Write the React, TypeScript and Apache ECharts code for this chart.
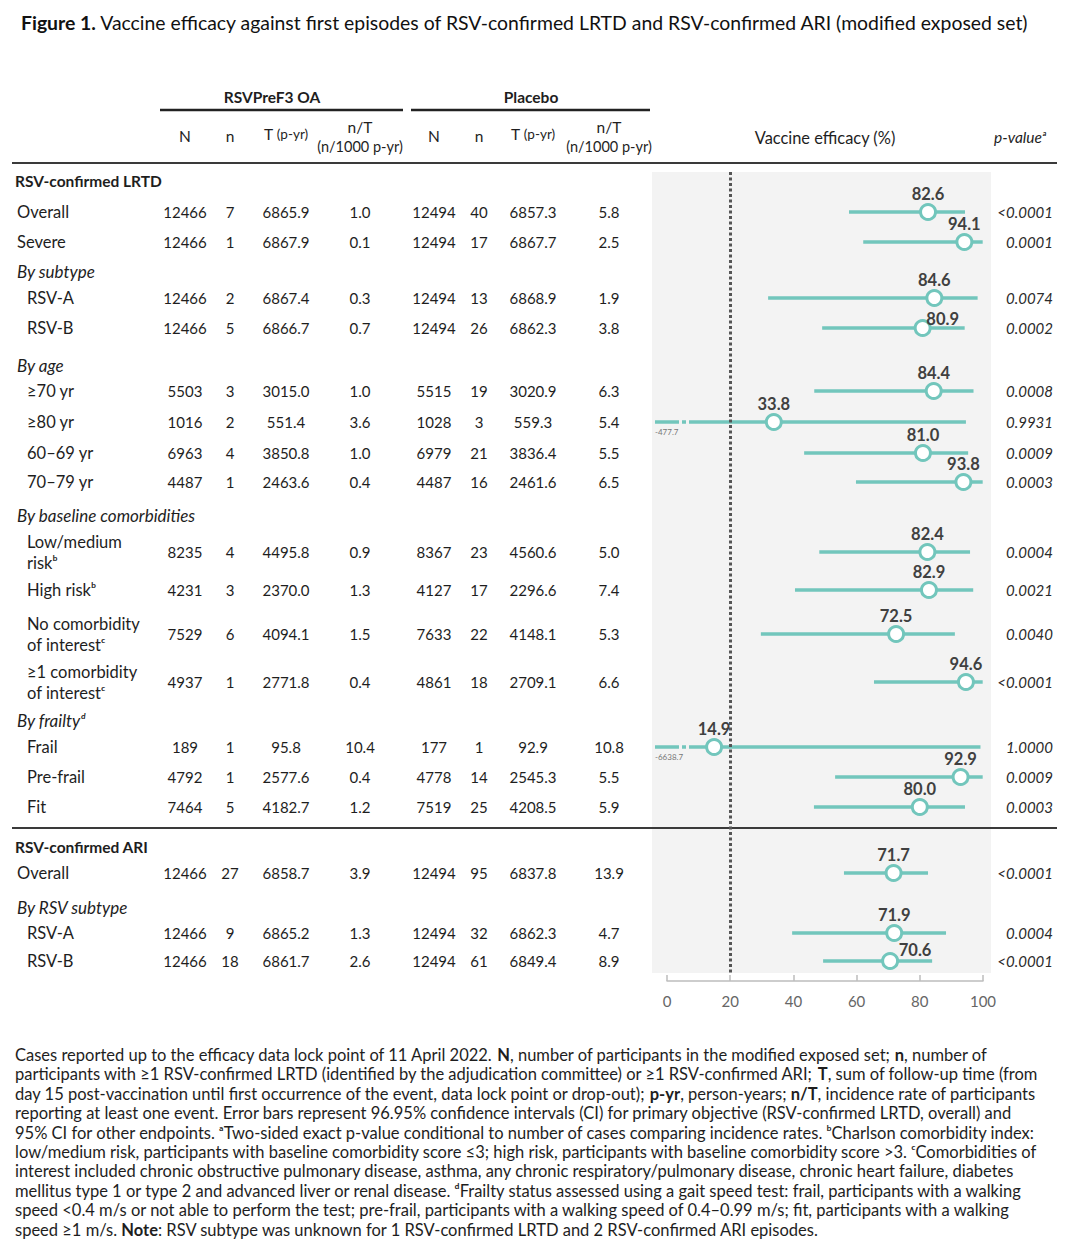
import React, { useEffect, useRef } from "react";
import * as echarts from "echarts";

// ---------------- DATA ----------------
const ROW_LABELS = [
  "RSV-confirmed LRTD", "Overall", "Severe", "By subtype", "RSV-A", "RSV-B",
  "By age", "≥70 yr", "≥80 yr", "60–69 yr", "70–79 yr",
  "By baseline comorbidities", "Low/medium\nriskᵇ", "High riskᵇ",
  "No comorbidity\nof interestᶜ", "≥1 comorbidity\nof interestᶜ",
  "By frailtyᵈ", "Frail", "Pre-frail", "Fit",
  "RSV-confirmed ARI", "Overall", "By RSV subtype", "RSV-A", "RSV-B",
];
// kind: g = group (bold), h = subgroup header (italic), o = outer item, i = indented item
const ROW_KIND = ["g", "o", "o", "h", "i", "i", "h", "i", "i", "i", "i", "h", "i", "i", "i", "i", "h", "i", "i", "i", "g", "o", "h", "i", "i"];

const VAC_N = [null, 12466, 12466, null, 12466, 12466, null, 5503, 1016, 6963, 4487, null, 8235, 4231, 7529, 4937, null, 189, 4792, 7464, null, 12466, null, 12466, 12466];
const VAC_CASES = [null, 7, 1, null, 2, 5, null, 3, 2, 4, 1, null, 4, 3, 6, 1, null, 1, 1, 5, null, 27, null, 9, 18];
const VAC_T = [null, "6865.9", "6867.9", null, "6867.4", "6866.7", null, "3015.0", "551.4", "3850.8", "2463.6", null, "4495.8", "2370.0", "4094.1", "2771.8", null, "95.8", "2577.6", "4182.7", null, "6858.7", null, "6865.2", "6861.7"];
const VAC_RATE = [null, "1.0", "0.1", null, "0.3", "0.7", null, "1.0", "3.6", "1.0", "0.4", null, "0.9", "1.3", "1.5", "0.4", null, "10.4", "0.4", "1.2", null, "3.9", null, "1.3", "2.6"];
const PLA_N = [null, 12494, 12494, null, 12494, 12494, null, 5515, 1028, 6979, 4487, null, 8367, 4127, 7633, 4861, null, 177, 4778, 7519, null, 12494, null, 12494, 12494];
const PLA_CASES = [null, 40, 17, null, 13, 26, null, 19, 3, 21, 16, null, 23, 17, 22, 18, null, 1, 14, 25, null, 95, null, 32, 61];
const PLA_T = [null, "6857.3", "6867.7", null, "6868.9", "6862.3", null, "3020.9", "559.3", "3836.4", "2461.6", null, "4560.6", "2296.6", "4148.1", "2709.1", null, "92.9", "2545.3", "4208.5", null, "6837.8", null, "6862.3", "6849.4"];
const PLA_RATE = [null, "5.8", "2.5", null, "1.9", "3.8", null, "6.3", "5.4", "5.5", "6.5", null, "5.0", "7.4", "5.3", "6.6", null, "10.8", "5.5", "5.9", null, "13.9", null, "4.7", "8.9"];
const VE = [null, 82.6, 94.1, null, 84.6, 80.9, null, 84.4, 33.8, 81.0, 93.8, null, 82.4, 82.9, 72.5, 94.6, null, 14.9, 92.9, 80.0, null, 71.7, null, 71.9, 70.6];
const CI_LO = [null, 57.6, 62.1, null, 32.0, 49.1, null, 46.6, -477.7, 43.4, 59.8, null, 48.2, 40.5, 29.7, 65.5, null, -6638.7, 53.2, 46.5, null, 56.0, null, 39.6, 49.4];
const CI_HI = [null, 94.3, 99.9, null, 98.3, 94.2, null, 97.0, 94.6, 95.3, 99.9, null, 95.9, 96.9, 91.1, 99.9, null, 99.2, 99.9, 94.3, null, 82.6, null, 88.3, 83.9];
const P_VALUES = [null, "<0.0001", "0.0001", null, "0.0074", "0.0002", null, "0.0008", "0.9931", "0.0009", "0.0003", null, "0.0004", "0.0021", "0.0040", "<0.0001", null, "1.0000", "0.0009", "0.0003", null, "<0.0001", null, "0.0004", "<0.0001"];

const AXIS_TICKS = [0, 20, 40, 60, 80, 100];
const REFERENCE_LINE = 20;

const TITLE_BOLD = "Figure 1.";
const TITLE_REST = " Vaccine efficacy against first episodes of RSV-confirmed LRTD and RSV-confirmed ARI (modified exposed set)";

const FOOTNOTE_LINES = [
  "Cases reported up to the efficacy data lock point of 11 April 2022. {b|N}, number of participants in the modified exposed set; {b|n}, number of",
  "participants with ≥1 RSV-confirmed LRTD (identified by the adjudication committee) or ≥1 RSV-confirmed ARI; {b|T}, sum of follow-up time (from",
  "day 15 post-vaccination until first occurrence of the event, data lock point or drop-out); {b|p-yr}, person-years; {b|n/T}, incidence rate of participants",
  "reporting at least one event. Error bars represent 96.95% confidence intervals (CI) for primary objective (RSV-confirmed LRTD, overall) and",
  "95% CI for other endpoints. ᵃTwo-sided exact p-value conditional to number of cases comparing incidence rates. ᵇCharlson comorbidity index:",
  "low/medium risk, participants with baseline comorbidity score ≤3; high risk, participants with baseline comorbidity score >3. ᶜComorbidities of",
  "interest included chronic obstructive pulmonary disease, asthma, any chronic respiratory/pulmonary disease, chronic heart failure, diabetes",
  "mellitus type 1 or type 2 and advanced liver or renal disease. ᵈFrailty status assessed using a gait speed test: frail, participants with a walking",
  "speed <0.4 m/s or not able to perform the test; pre-frail, participants with a walking speed of 0.4–0.99 m/s; fit, participants with a walking",
  "speed ≥1 m/s. {b|Note}: RSV subtype was unknown for 1 RSV-confirmed LRTD and 2 RSV-confirmed ARI episodes.",
];

// ---------------- LAYOUT ----------------
const ROW_Y = [181, 212, 242, 271, 298, 328, 365, 391, 422, 453, 482, 515, 552, 590, 634, 682, 720, 747, 777, 807, 847, 873, 907, 933, 961];
const LABEL_DX: Record<number, number> = { 5: 20, 24: 25 };
const LABEL_DY: Record<number, number> = { 5: -9, 24: -11 };
const COL_X = [185, 230, 286, 360, 434, 479, 533, 609];
const PLOT_TOP = 172;
const PLOT_BOTTOM = 973;
const PLOT_LEFT = 667;
const PLOT_RIGHT = 983;
const FONT = 'Lato, "Open Sans", "DejaVu Sans", sans-serif';
const TEAL = "#72c6bc";
const TEXT = "#1e1e1e";
const FOOT_SIZE = 16.5;

function txt(x: number, y: number, text: string, extra: any = {}) {
  return {
    type: "text",
    x,
    y,
    silent: true,
    style: {
      text,
      fontFamily: FONT,
      fontSize: 15,
      fill: TEXT,
      align: "center",
      verticalAlign: "middle",
      ...extra,
    },
  };
}

function hline(x1: number, x2: number, y: number, w = 2, c = "#3a3a3a") {
  return { type: "line", silent: true, shape: { x1, y1: y, x2, y2: y }, style: { stroke: c, lineWidth: w } };
}

function buildGraphics() {
  const g: any[] = [];
  // panel
  g.push({ type: "rect", silent: true, z: -10, shape: { x: 652, y: PLOT_TOP, width: 339, height: PLOT_BOTTOM - PLOT_TOP }, style: { fill: "#f3f3f3" } });
  // title
  g.push(txt(21, 22, `{b|${TITLE_BOLD}}{r|${TITLE_REST}}`, {
    align: "left",
    rich: {
      b: { fontFamily: FONT, fontSize: 19.4, fontWeight: "bold", fill: "#111" },
      r: { fontFamily: FONT, fontSize: 19.4, fill: "#111" },
    },
  }));
  // group headers
  g.push(txt(272, 97, "RSVPreF3 OA", { fontWeight: "bold", fontSize: 15.5 }));
  g.push(txt(531, 97, "Placebo", { fontWeight: "bold", fontSize: 15.5 }));
  g.push(hline(160, 403, 110, 2.5, "#222"));
  g.push(hline(411, 650, 110, 2.5, "#222"));
  // column headers
  const richT = { t: { fontFamily: FONT, fontSize: 15.5, fill: TEXT }, s: { fontFamily: FONT, fontSize: 13.5, fill: TEXT } };
  [0, 4].forEach((o) => {
    g.push(txt(COL_X[o], 136, "N", { fontSize: 15.5 }));
    g.push(txt(COL_X[o + 1], 136, "n", { fontSize: 15.5 }));
    g.push(txt(COL_X[o + 2], 134, "{t|T} {s|(p-yr)}", { rich: richT }));
    g.push(txt(COL_X[o + 3], 127, "n/T", { fontSize: 15.5 }));
    g.push(txt(COL_X[o + 3], 146, "(n/1000 p-yr)", { fontSize: 14.5 }));
  });
  g.push(txt(825, 137, "Vaccine efficacy (%)", { fontSize: 16.4 }));
  g.push(txt(1020, 137, "p-valueᵃ", { fontStyle: "italic", fontSize: 15.5 }));
  g.push(hline(12, 1057, 163, 2));
  g.push(hline(12, 1057, 828, 2));

  // rows
  ROW_LABELS.forEach((label, i) => {
    const kind = ROW_KIND[i];
    const y = ROW_Y[i];
    const x = kind === "i" ? 27 : kind === "g" ? 15 : 17;
    g.push(txt(x, y, label, {
      align: "left",
      fontWeight: kind === "g" ? "bold" : "normal",
      fontStyle: kind === "h" ? "italic" : "normal",
      fontSize: kind === "g" ? 15.5 : kind === "h" ? 17 : 16.5,
      lineHeight: 21,
    }));
    if (VAC_N[i] == null) return;
    const vals = [VAC_N[i], VAC_CASES[i], VAC_T[i], VAC_RATE[i], PLA_N[i], PLA_CASES[i], PLA_T[i], PLA_RATE[i]];
    vals.forEach((v, c) => g.push(txt(COL_X[c], y, String(v))));
    g.push(txt(1053, y, P_VALUES[i] as string, { align: "right", fontStyle: "italic", fill: "#2a2a2a" }));
  });

  // footnote
  FOOTNOTE_LINES.forEach((line, k) => {
    g.push(txt(15, 1055 + k * 19.4, line, {
      align: "left",
      fontSize: FOOT_SIZE,
      rich: {
        b: { fontFamily: FONT, fontSize: FOOT_SIZE, fontWeight: "bold", fill: TEXT },
      },
    }));
  });
  return g;
}

export default function App() {
  const ref = useRef<HTMLDivElement>(null);
  useEffect(() => {
    document.body.style.margin = "0";
    if (!ref.current) return;
    const chart = echarts.init(ref.current, null, { renderer: "svg" });
    const forestData: any[] = [];
    VE.forEach((v, i) => {
      if (v == null) return;
      forestData.push([v, ROW_Y[i], CI_LO[i], CI_HI[i], i]);
    });
    const option: any = {
      animation: false,
      backgroundColor: "#ffffff",
      textStyle: { fontFamily: FONT },
      grid: { left: PLOT_LEFT, top: PLOT_TOP, width: PLOT_RIGHT - PLOT_LEFT, height: PLOT_BOTTOM - PLOT_TOP, containLabel: false },
      xAxis: {
        type: "value",
        min: AXIS_TICKS[0],
        max: AXIS_TICKS[AXIS_TICKS.length - 1],
        interval: AXIS_TICKS[1] - AXIS_TICKS[0],
        offset: 8,
        axisLine: { show: true, lineStyle: { color: "#bdbdbd", width: 1.5 } },
        axisTick: { show: true, inside: true, length: 6, lineStyle: { color: "#bdbdbd", width: 1.5 } },
        axisLabel: { color: "#666", fontSize: 15, fontFamily: FONT, margin: 12 },
        splitLine: { show: false },
      },
      yAxis: { type: "value", inverse: true, min: PLOT_TOP, max: PLOT_BOTTOM, show: false },
      graphic: buildGraphics(),
      series: [
        {
          type: "custom",
          clip: false,
          z: 3,
          data: forestData,
          encode: { x: 0, y: 1 },
          renderItem: (params: any, api: any) => {
            const ve = api.value(0);
            const y = api.value(1);
            const lo = api.value(2);
            const hi = api.value(3);
            const idx = api.value(4);
            const pv = api.coord([ve, y]);
            const ph = api.coord([hi, y]);
            const p0 = api.coord([0, y]);
            const ls = { stroke: TEAL, lineWidth: 3.5 };
            const children: any[] = [];
            if (lo >= 0) {
              const pl = api.coord([lo, y]);
              children.push({ type: "line", shape: { x1: pl[0], y1: pv[1], x2: ph[0], y2: pv[1] }, style: ls });
            } else {
              children.push({ type: "line", shape: { x1: p0[0] - 12, y1: pv[1], x2: p0[0] + 12, y2: pv[1] }, style: ls });
              children.push({ type: "line", shape: { x1: p0[0] + 15, y1: pv[1], x2: p0[0] + 19, y2: pv[1] }, style: ls });
              children.push({ type: "line", shape: { x1: p0[0] + 22, y1: pv[1], x2: ph[0], y2: pv[1] }, style: ls });
              children.push({
                type: "text",
                x: p0[0] - 12,
                y: pv[1] + 10,
                style: { text: String(lo), fontFamily: FONT, fontSize: 8, fill: "#777", align: "left", verticalAlign: "middle" },
              });
            }
            children.push({ type: "circle", shape: { cx: pv[0], cy: pv[1], r: 7.5 }, style: { fill: "#fff", stroke: TEAL, lineWidth: 3 } });
            children.push({
              type: "text",
              x: pv[0] + (LABEL_DX[idx] || 0),
              y: pv[1] + (LABEL_DY[idx] ?? -18),
              style: { text: ve.toFixed(1), fontFamily: FONT, fontSize: 16.5, fontWeight: "bold", fill: "#404040", align: "center", verticalAlign: "middle" },
            });
            return { type: "group", children };
          },
        },
        {
          type: "line",
          data: [],
          z: 4,
          markLine: {
            silent: true,
            symbol: "none",
            label: { show: false },
            lineStyle: { type: [3, 2.5], color: "#555", width: 3 },
            data: [{ xAxis: REFERENCE_LINE }],
          },
        },
      ],
    };
    chart.setOption(option);
    return () => chart.dispose();
  }, []);
  return <div ref={ref} style={{ width: 1080, height: 1249 }} />;
}
